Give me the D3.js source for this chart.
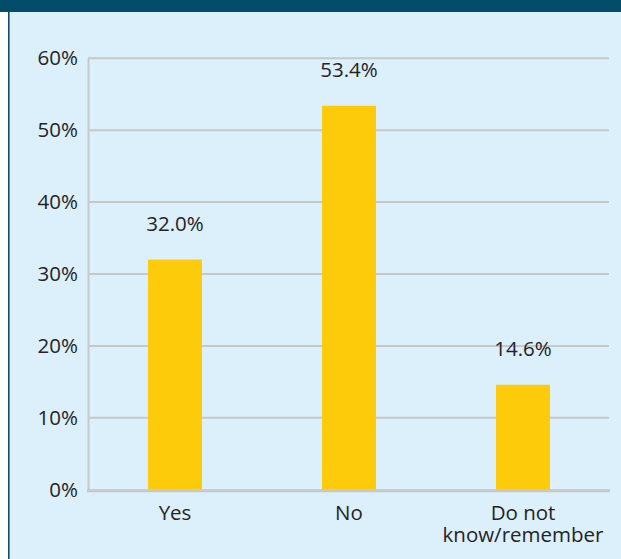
<!DOCTYPE html>
<html>
<head>
<meta charset="utf-8">
<script src="https://cdn.jsdelivr.net/npm/d3@7"></script>
<style>
  html, body { margin: 0; padding: 0; background: #ffffff; }
  svg { display: block; }
  text { font-family: "Open Sans", "Noto Sans", sans-serif; font-weight: 400; fill: #262324; }
</style>
</head>
<body>
<svg id="chart" width="621" height="559"></svg>
<script>
// Survey responses (share of respondents)
const categories = ["Yes", "No", "Do not\nknow/remember"];
const values = [32.0, 53.4, 14.6];
const yTicks = [0, 10, 20, 30, 40, 50, 60];

const W = 621, H = 559;
const FONT = "20.5px";
const svg = d3.select("#chart");

// panel background, header band and left rule
svg.append("rect").attr("x", 9).attr("y", 0).attr("width", W - 9).attr("height", H).attr("fill", "#dbf0fb");
svg.append("rect").attr("x", 8).attr("y", 0).attr("width", 1.6).attr("height", H).attr("fill", "#0f4e6b");
svg.append("rect").attr("x", 0).attr("y", 0).attr("width", W).attr("height", 12).attr("fill", "#034d6b");

const plot = { left: 88, right: 610, top: 58.3, bottom: 489.7 };

const x = d3.scaleBand()
  .domain(categories)
  .range([plot.left, plot.right])
  .paddingInner(0.69)
  .paddingOuter(0.345);

const y = d3.scaleLinear()
  .domain([0, 60])
  .range([plot.bottom, plot.top]);

// horizontal gridlines
svg.append("g")
  .selectAll("line")
  .data(yTicks.filter(d => d > 0))
  .join("line")
  .attr("x1", plot.left).attr("x2", plot.right - 1)
  .attr("y1", d => y(d)).attr("y2", d => y(d))
  .attr("stroke", "#c6c8ca").attr("stroke-width", 2);

// y axis
const yAxis = d3.axisLeft(y).tickValues(yTicks).tickSize(0).tickPadding(10)
  .tickFormat(d => d + "%");
const gy = svg.append("g").attr("transform", `translate(${plot.left},0)`).call(yAxis);
gy.attr("font-family", null).attr("font-size", null);
gy.select(".domain").attr("stroke", "#c6c8ca").attr("stroke-width", 2);
gy.selectAll("text").style("font-size", FONT).attr("fill", "#262324");

// bars
svg.append("g")
  .selectAll("rect")
  .data(values)
  .join("rect")
  .attr("x", (d, i) => x(categories[i]))
  .attr("width", x.bandwidth())
  .attr("y", d => y(d))
  .attr("height", d => y(0) - y(d))
  .attr("fill", "#fecb0b");

// value labels
svg.append("g")
  .selectAll("text")
  .data(values)
  .join("text")
  .attr("x", (d, i) => x(categories[i]) + x.bandwidth() / 2)
  .attr("y", d => y(d) - 29)
  .attr("text-anchor", "middle")
  .style("font-size", FONT)
  .text(d => d.toFixed(1) + "%");

// x axis baseline
svg.append("line")
  .attr("x1", plot.left - 1).attr("x2", plot.right)
  .attr("y1", y(0) + 1).attr("y2", y(0) + 1)
  .attr("stroke", "#c6c8ca").attr("stroke-width", 3);

// category labels, one text per line
const lines = categories.flatMap(c => c.split("\n").map((t, i) => ({ c, t, i })));
svg.append("g")
  .selectAll("text")
  .data(lines)
  .join("text")
  .attr("x", d => x(d.c) + x.bandwidth() / 2)
  .attr("y", d => 520 + d.i * 21.7)
  .attr("text-anchor", "middle")
  .style("font-size", FONT)
  .text(d => d.t);
</script>
</body>
</html>
